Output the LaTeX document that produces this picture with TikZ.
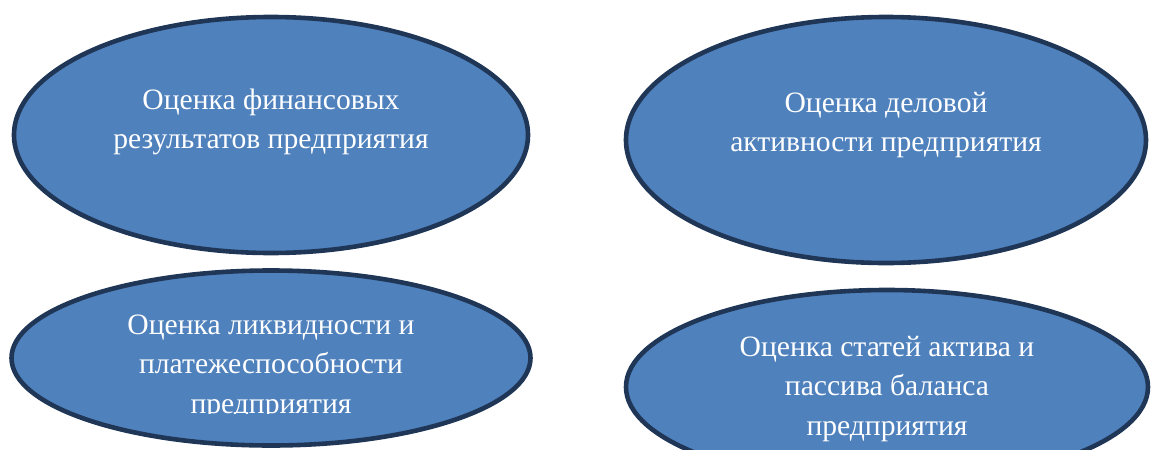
\documentclass[tikz,border=0pt]{standalone}
\usepackage{fontspec}
\setmainfont{Liberation Serif}
\usetikzlibrary{shapes.geometric}
\definecolor{ovalfill}{HTML}{4F81BD}
\definecolor{ovalline}{HTML}{1F3656}
\tikzset{
  oval/.style={ellipse, draw=ovalline, line width=2.3pt, fill=ovalfill, inner sep=0pt},
  ovaltext/.style={text=white, align=center, inner sep=0pt,
    font=\fontsize{14.8}{19.75}\selectfont}
}
\begin{document}
\begin{tikzpicture}[x=0.5pt,y=-0.5pt]
	\useasboundingbox (0,0) rectangle (1158,450);
	\clip (0,0) rectangle (1158,450);
	% ovals
	\node[oval, minimum width=257pt, minimum height=118pt] (fin) at (271,135) {};
	\node[oval, minimum width=260pt, minimum height=123pt] (act) at (886,140) {};
	\node[oval, minimum width=259.5pt, minimum height=87.5pt] (liq) at (271,358) {};
	\node[oval, minimum width=261pt, minimum height=97pt] (bal) at (887,387) {};
	% texts
	\node[ovaltext] (fintext) at ([yshift=6.5pt]fin.center) {Оценка финансовых\\результатов предприятия};
	\node[ovaltext] (acttext) at ([yshift=7.5pt]act.center) {Оценка деловой\\активности предприятия};
	\begin{scope}
		\clip (0,0) rectangle (1158,413);
		\node[ovaltext] (liqtext) at ([yshift=-4.5pt]liq.center) {Оценка ликвидности и\\платежеспособности\\предприятия};
	\end{scope}
	\node[ovaltext] (baltext) at ([yshift=-1pt]bal.center) {Оценка статей актива и\\пассива баланса\\предприятия};
\end{tikzpicture}
\end{document}
